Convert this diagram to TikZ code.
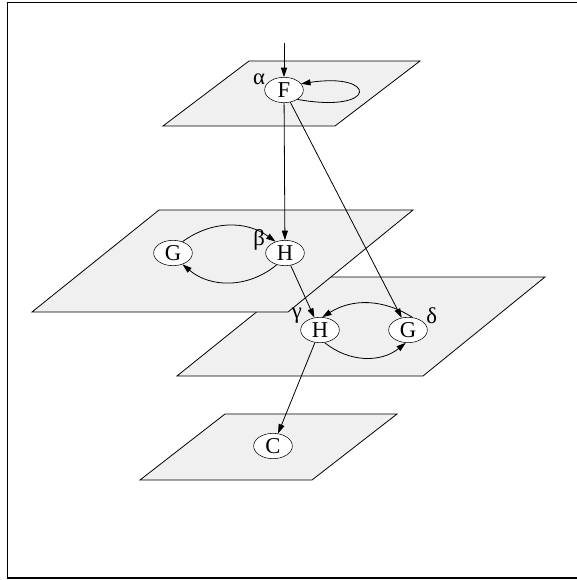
\documentclass[tikz,border=0pt]{standalone}
\usepackage{fontspec}
\setmainfont{Liberation Serif}
\usetikzlibrary{shapes.geometric, arrows.meta, positioning}

\begin{document}
\begin{tikzpicture}[x=0.75pt, y=-0.75pt,
        plano/.style={draw, fill=gray!12, line width=0.6pt},
        estado/.style={ellipse, draw, fill=white, minimum width=29pt, minimum height=19pt, inner sep=0pt, font=\fontsize{17}{19}\selectfont},
        rotulo/.style={font=\fontsize{17}{19}\selectfont, inner sep=0pt, label distance=0.5pt},
        flecha/.style={-{Triangle[length=7pt, width=4.5pt]}, line width=0.6pt}]
        \useasboundingbox (0,0) rectangle (576,580);
        \draw[line width=0.9pt] (7.5,2.5) rectangle (590,578);
        % planos
        \draw[plano] (163,126) -- (335,126) -- (420,61) -- (249,61) -- cycle;
        \draw[plano] (177,376) -- (423,376) -- (545,277) -- (300,277) -- cycle;
        \draw[plano] (32,312) -- (288,312) -- (413,210) -- (159,210) -- cycle;
        \draw[plano] (140,480) -- (312,480) -- (397,414) -- (225,414) -- cycle;
        % estados
        \node[estado, label={[rotulo]165:α}] (F) at (284,90) {F};
        \node[estado] (Gb) at (173,253) {G};
        \node[estado, label={[rotulo]172:β}] (Hb) at (285,253) {H};
        \node[estado, label={[rotulo]160:γ}] (Hc) at (320,330) {H};
        \node[estado, label={[rotulo]18:δ}] (Gd) at (408,330) {G};
        \node[estado] (C) at (273,446) {C};
        \coordinate (entrada) at (284,43);
        % transiciones
        \draw[flecha] (entrada) -- (F);
        \draw[flecha] (F.-35) .. controls (378,114) and (378,72) .. (F.20);
        \draw[flecha] (F) -- (Hb);
        \draw[flecha] (F) -- (Gd);
        \draw[flecha] (Gb.50) to[bend left=36] (Hb.130);
        \draw[flecha] (Hb.235) to[bend left=40] (Gb.-50);
        \draw[flecha] (Hb) -- (Hc);
        \draw[flecha] (Gd.70) to[bend right=32] (Hc.80);
        \draw[flecha] (Hc.-70) to[bend right=39] (Gd.-100);
        \draw[flecha] (Hc) -- (C);
    \end{tikzpicture}
\end{document}
